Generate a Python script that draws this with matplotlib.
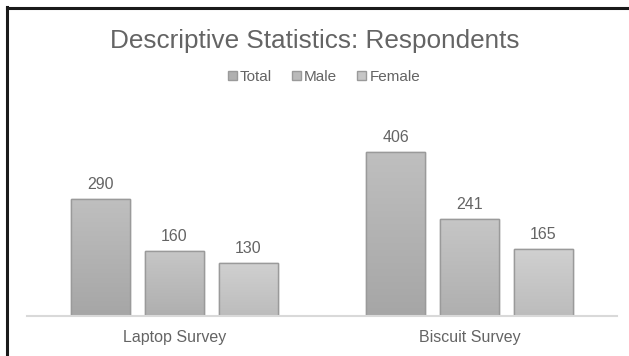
import numpy as np
import matplotlib
matplotlib.use("Agg")
import matplotlib.pyplot as plt
from matplotlib.patches import Patch

plt.rcParams['font.family'] = ['Liberation Sans', 'DejaVu Sans']

# data
surveys = ["Laptop Survey", "Biscuit Survey"]
series = ["Total", "Male", "Female"]
total = [290, 406]
male = [160, 241]
female = [130, 165]

# gradient (top, bottom) per series
top_cols = ["#bfbfbf", "#c6c6c6", "#d0d0d0"]
bot_cols = ["#a6a6a6", "#afafaf", "#bcbcbc"]
flat_cols = ["#b0b0b0", "#bababa", "#c6c6c6"]
txt = "#646464"

fig = plt.figure(figsize=(6.29, 3.56), dpi=100)
ax = fig.add_axes([27/629, 1 - 316/356, 590/629, (316 - 134)/356])

x = np.arange(len(surveys))
width = 0.2
step = 0.25
values = [total, male, female]

def hex2rgb(h):
    return np.array([int(h[i:i + 2], 16) / 255 for i in (1, 3, 5)])

for i, (name, vals) in enumerate(zip(series, values)):
    bars = ax.bar(x + (i - 1) * step, vals, width, color=flat_cols[i],
                  edgecolor="#9a9a9a", linewidth=1.0, zorder=2, label=name)
    t, b = hex2rgb(top_cols[i]), hex2rgb(bot_cols[i])
    grad = np.linspace(0, 1, 64)[:, None, None]
    img = b * (1 - grad) + t * grad
    for bar in bars:
        x0, y0 = bar.get_x(), bar.get_y()
        im = ax.imshow(img, extent=[x0, x0 + bar.get_width(), y0, y0 + bar.get_height()],
                       origin="lower", aspect="auto", zorder=2.5, interpolation="bilinear")
        im.set_clip_path(bar)
        ax.add_patch(plt.Rectangle((x0, y0), bar.get_width(), bar.get_height(),
                                   fill=False, edgecolor="#9a9a9a", linewidth=1.0, zorder=3))
    ax.bar_label(bars, padding=5, color=txt, fontsize=11.5)

ax.set_xlim(-0.5, 1.5)
ax.set_ylim(0, 450)
ax.set_xticks(x)
ax.set_xticklabels(surveys, color=txt, fontsize=11.5)
ax.tick_params(axis="x", length=0, pad=10)
ax.set_yticks([])
for s in ["top", "right", "left"]:
    ax.spines[s].set_visible(False)
ax.spines["bottom"].set_color("#d9d9d9")
ax.spines["bottom"].set_linewidth(1.5)
ax.spines["bottom"].set_zorder(4)

fig.text(0.5, 1 - 41/356, "Descriptive Statistics: Respondents", ha="center", va="center",
         fontsize=18.8, color=txt)
handles = [Patch(facecolor=flat_cols[i], edgecolor="#9a9a9a", label=series[i]) for i in range(3)]
fig.legend(handles=handles, loc="center", bbox_to_anchor=(0.515, 1 - 77/356), ncol=3,
           frameon=False, fontsize=11, labelcolor=txt, handlelength=0.6, handleheight=0.6,
           handletextpad=0.2, columnspacing=1.3)

# black frame on top and left, as in the reference
fig.add_artist(plt.Line2D([7/629, 7/629], [0, 1 - 7/356], color="#1a1a1a", linewidth=2.2))
fig.add_artist(plt.Line2D([7/629, 1], [1 - 8/356, 1 - 8/356], color="#1a1a1a", linewidth=2.2))

fig.savefig("out.png", dpi=100)
